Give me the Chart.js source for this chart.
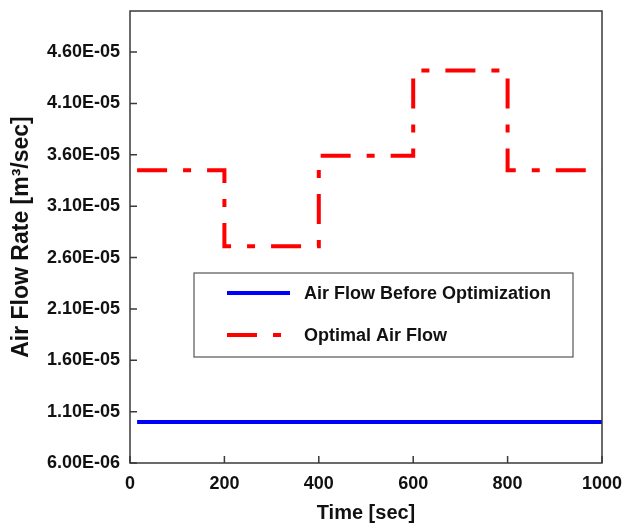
<!DOCTYPE html>
<html>
<head>
<meta charset="utf-8">
<script src="https://cdn.jsdelivr.net/npm/chart.js@4"></script>
<style>
  body { margin: 0; background: #fff; }
  #wrap { width: 625px; height: 525px; position: relative; }
</style>
</head>
<body>
<div id="wrap"><canvas id="flowChart"></canvas></div>
<script>
// air flow before optimization (constant)
const beforeTimes = [15, 1000];
const beforeFlow = [1.0e-5, 1.0e-5];

// optimal air flow, one value per interval start (stepped)
const stepTimes = [15, 200, 400, 600, 800, 1000];
const optimalFlow = [3.45e-5, 2.71e-5, 3.59e-5, 4.42e-5, 3.45e-5, 3.45e-5];

const xTicks = [0, 200, 400, 600, 800, 1000];
const yTicks = [6e-6, 1.1e-5, 1.6e-5, 2.1e-5, 2.6e-5, 3.1e-5, 3.6e-5, 4.1e-5, 4.6e-5];

const seriesLabels = ['Air Flow Before Optimization', 'Optimal Air Flow'];

const FONT = '"Liberation Sans", Arial, sans-serif';
const redDash = [30, 16, 8, 16];

function sci(v) {
    const parts = v.toExponential(2).split('e');
    const n = parseInt(parts[1], 10);
    return parts[0] + 'E' + (n < 0 ? '-' : '+') + String(Math.abs(n)).padStart(2, '0');
}

// frame around the plot plus inward tick marks on left and bottom
const framePlugin = {
    id: 'frame',
    afterDraw(chart) {
        const ctx = chart.ctx;
        const a = chart.chartArea;
        ctx.save();
        ctx.strokeStyle = '#3a3a3a';
        ctx.lineWidth = 1.5;
        ctx.strokeRect(a.left, a.top, a.right - a.left, a.bottom - a.top);
        ctx.beginPath();
        chart.scales.y.ticks.forEach(t => {
            const py = chart.scales.y.getPixelForValue(t.value);
            ctx.moveTo(a.left, py);
            ctx.lineTo(a.left + 7, py);
        });
        chart.scales.x.ticks.forEach(t => {
            const px = chart.scales.x.getPixelForValue(t.value);
            ctx.moveTo(px, a.bottom);
            ctx.lineTo(px, a.bottom - 7);
        });
        ctx.stroke();
        ctx.restore();
    }
};

// boxed legend sitting inside the plot area
const boxLegend = {
    id: 'boxLegend',
    afterDraw(chart) {
        const ctx = chart.ctx;
        const box = { x: 194, y: 273, w: 379, h: 84 };
        ctx.save();
        ctx.fillStyle = '#fff';
        ctx.fillRect(box.x, box.y, box.w, box.h);
        ctx.strokeStyle = '#555';
        ctx.lineWidth = 1.2;
        ctx.strokeRect(box.x, box.y, box.w, box.h);
        ctx.font = 'bold 18px ' + FONT;
        ctx.textBaseline = 'middle';
        chart.data.datasets.forEach((ds, i) => {
            const ly = box.y + 20 + i * 42;
            ctx.beginPath();
            ctx.strokeStyle = ds.borderColor;
            ctx.lineWidth = ds.borderWidth;
            ctx.setLineDash(ds.borderDash || []);
            ctx.moveTo(box.x + 33, ly);
            ctx.lineTo(box.x + 96, ly);
            ctx.stroke();
            ctx.setLineDash([]);
            ctx.fillStyle = '#111';
            ctx.fillText(ds.label, box.x + 110, ly + 1);
        });
        ctx.restore();
    }
};

new Chart(document.getElementById('flowChart'), {
    type: 'line',
    data: {
        datasets: [{
            label: seriesLabels[0],
            data: beforeTimes.map((t, i) => ({ x: t, y: beforeFlow[i] })),
            borderColor: '#0000ff',
            borderWidth: 4,
            pointRadius: 0,
            fill: false
        }, {
            label: seriesLabels[1],
            data: stepTimes.map((t, i) => ({ x: t, y: optimalFlow[i] })),
            borderColor: '#ff0000',
            borderWidth: 4,
            borderDash: redDash,
            borderCapStyle: 'butt',
            stepped: 'before',
            pointRadius: 0,
            fill: false
        }]
    },
    options: {
        responsive: true,
        maintainAspectRatio: false,
        animation: false,
        layout: { padding: 0 },
        plugins: {
            legend: { display: false },
            tooltip: { enabled: false }
        },
        scales: {
            x: {
                type: 'linear',
                min: 0,
                max: 1000,
                afterBuildTicks: s => { s.ticks = xTicks.map(v => ({ value: v })); },
                afterFit: s => {
                    s.height = 62;
                    s.paddingLeft = 0;
                    s.paddingRight = 23;
                },
                grid: { display: false, drawTicks: false },
                border: { display: false },
                ticks: {
                    padding: 10,
                    color: '#111',
                    font: { family: FONT, size: 18, weight: 'bold' },
                    callback: v => String(v)
                },
                title: {
                    display: true,
                    text: 'Time [sec]',
                    color: '#111',
                    padding: { top: 0, bottom: 0 },
                    font: { family: FONT, size: 20, weight: 'bold' }
                }
            },
            y: {
                type: 'linear',
                min: 6e-6,
                max: 5.0e-5,
                afterBuildTicks: s => { s.ticks = yTicks.map(v => ({ value: v })); },
                afterFit: s => {
                    s.width = 130;
                    s.paddingTop = 11;
                    s.paddingBottom = 0;
                },
                grid: { display: false, drawTicks: false },
                border: { display: false },
                ticks: {
                    padding: 10,
                    color: '#111',
                    font: { family: FONT, size: 18, weight: 'bold' },
                    callback: v => sci(v)
                },
                title: {
                    display: true,
                    text: 'Air Flow Rate [m³/sec]',
                    color: '#111',
                    padding: { top: 8, bottom: 0 },
                    font: { family: FONT, size: 23, weight: 'bold' }
                }
            }
        }
    },
    plugins: [framePlugin, boxLegend]
});
</script>
</body>
</html>
